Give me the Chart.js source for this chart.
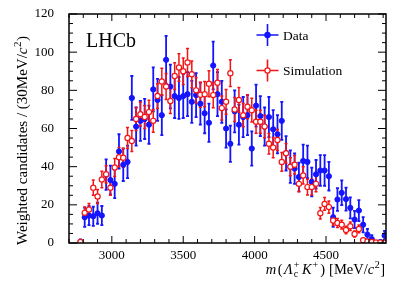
<!DOCTYPE html>
<html>
<head>
<meta charset="utf-8">
<script src="https://cdn.jsdelivr.net/npm/chart.js"></script>
<style>
  body { margin: 0; background: #fff; }
  #wrap { width: 407px; height: 292px; }
</style>
</head>
<body>
<div id="wrap"><canvas id="chart" width="407" height="292"></canvas></div>
<script>
// bin centres, MeV/c^2 (30 MeV bins)
const massBins = [2780, 2810, 2840, 2870, 2900, 2930, 2960, 2990, 3020, 3050, 3080, 3110,
  3140, 3170, 3200, 3230, 3260, 3290, 3320, 3350, 3380, 3410, 3440, 3470,
  3500, 3530, 3560, 3590, 3620, 3650, 3680, 3710, 3740, 3770, 3800, 3830,
  3860, 3890, 3920, 3950, 3980, 4010, 4040, 4070, 4100, 4130, 4160, 4190,
  4220, 4250, 4280, 4310, 4340, 4370, 4400, 4430, 4460, 4490, 4520, 4550,
  4580, 4610, 4640, 4670, 4700, 4730, 4760, 4790, 4820, 4850, 4880, 4910];

const dataVals = [0.4, 13.5, 14.4, 14, 15.6, 14.4, 35.8, 33, 31, 48, 41, 42.5,
  76, 61, 64, 65, 62, 80.5, 75, 67, 96, 82, 77, 76,
  77, 78, 74, 77.5, 73, 68, 63, 93, 78, 74, 60, 52,
  69, 62, 66, 67, 49.5, 72, 66.5, 61, 66, 59.6, 57, 64,
  47, 40, 39, 34.6, 43, 42.5, 32, 36, 38, 38, 35, 13.5,
  22.8, 26.3, 23, 18.4, 12.3, 17, 9.6, 4.4, 2.1, 0, 0.4, 3.9];
const dataErr = [1.5, 5, 5, 5, 5.5, 5, 8, 7.5, 7.5, 9, 8.5, 8.5,
  11.5, 10, 10.5, 10.5, 10, 11.5, 11, 10.5, 12.5, 11.5, 11.5, 11,
  11.5, 11.5, 11, 11.5, 11, 10.5, 10, 12.5, 11.5, 11, 10, 9.5,
  11, 10.5, 10.5, 10.5, 9, 11, 10.5, 10, 10.5, 10, 10, 10,
  9, 8.5, 8, 7.5, 8.5, 8.5, 7.5, 7.5, 8, 8, 7.5, 5,
  6, 6.5, 6, 5.5, 4.5, 5.5, 4, 3, 2, 1, 1.2, 2.5];

const simVals = [0.5, 15.8, 17.5, 29, 24.4, 33.3, 36, 29, 39.6, 45, 44.7, 55,
  53.5, 65, 67.5, 66, 68.6, 64, 77, 84.6, 82, 74.4, 87.5, 92,
  90, 94.6, 88.4, 80, 77.7, 78, 83.5, 77.5, 84, 70.7, 74, 89,
  70, 75, 67, 71.4, 69.6, 63.5, 63.5, 61, 52, 50, 54, 42.5,
  47, 40, 41, 31, 35.4, 29.3, 29.3, 31, 15.6, 20.5, 18.8, 11.8,
  10.5, 9.6, 6.8, 8.8, 4.7, 7.4, 1.5, 0.8, 0.5, 0.3, 0.2, 0.1];
const simErr = [0.5, 3, 3.2, 4, 3.7, 4.3, 4.5, 4, 4.7, 5, 5, 5.5,
  5.5, 6, 6.2, 6, 6.2, 6, 6.5, 7, 6.8, 6.5, 7, 7.2,
  7, 7.3, 7, 6.7, 6.6, 6.6, 6.8, 6.6, 6.9, 6.3, 6.5, 7,
  6.3, 6.5, 6.1, 6.3, 6.2, 6, 6, 5.9, 5.4, 5.3, 5.5, 4.9,
  5.1, 4.7, 4.8, 4.2, 4.5, 4.1, 4.1, 4.2, 3, 3.4, 3.2, 2.6,
  2.4, 2.3, 2, 2.2, 1.6, 2, 0.9, 0.7, 0.5, 0.4, 0.3, 0.2];

const xTicks = [3000, 3500, 4000, 4500];
const yTicks = [0, 20, 40, 60, 80, 100, 120];

const serif = "'Liberation Serif', 'DejaVu Serif', serif";
const blue = '#1414ff';
const red = '#f51414';

function toPoints(vals) {
  return massBins.map((m, i) => ({ x: m, y: vals[i] }));
}

// rich text: parts with italic / superscript / subscript, pad = extra gap after
function richWidth(ctx, parts, size) {
  let w = 0;
  parts.forEach(p => {
    if (p.sup !== undefined || p.sub !== undefined) {
      ctx.font = Math.round(size * 0.7) + 'px ' + serif;
      w += Math.max(ctx.measureText(p.sup || '').width, ctx.measureText(p.sub || '').width);
    } else {
      ctx.font = (p.it ? 'italic ' : '') + size + 'px ' + serif;
      w += ctx.measureText(p.t).width;
    }
    w += p.pad || 0;
  });
  return w;
}
function drawRich(ctx, parts, x, y, size) {
  parts.forEach(p => {
    if (p.sup !== undefined || p.sub !== undefined) {
      ctx.font = Math.round(size * 0.7) + 'px ' + serif;
      let w = 0;
      if (p.sup) { ctx.fillText(p.sup, x, y - size * 0.42); w = ctx.measureText(p.sup).width; }
      if (p.sub) { ctx.fillText(p.sub, x, y + size * 0.22); w = Math.max(w, ctx.measureText(p.sub).width); }
      x += w;
    } else {
      ctx.font = (p.it ? 'italic ' : '') + size + 'px ' + serif;
      ctx.fillText(p.t, x, y);
      x += ctx.measureText(p.t).width;
    }
    x += p.pad || 0;
  });
}

const xTitle = [{ t: 'm', it: true, pad: 1.5 }, { t: '(', pad: 1.5 }, { t: 'Λ', it: true, pad: 1 },
  { sup: '+', sub: 'c', pad: 2.5 }, { t: 'K', it: true, pad: 1 }, { sup: '+', pad: 2 },
  { t: ')', pad: 4 }, { t: '[MeV/' }, { t: 'c', it: true, pad: 0.5 }, { sup: '2', pad: 0.5 }, { t: ']' }];
const yTitle = [{ t: 'Weighted candidates / (30MeV/' }, { t: 'c', it: true, pad: 0.5 }, { sup: '2', pad: 0.5 }, { t: ')' }];

const errorBars = {
  id: 'errorBars',
  beforeDatasetsDraw(chart) {
    const ctx = chart.ctx, ys = chart.scales.y, a = chart.chartArea;
    ctx.save();
    ctx.beginPath();
    ctx.rect(a.left, a.top, a.right - a.left, a.bottom - a.top);
    ctx.clip();
    [1, 0].forEach(di => {
      const ds = chart.data.datasets[di];
      const meta = chart.getDatasetMeta(di);
      ctx.strokeStyle = ds.borderColor;
      ctx.lineWidth = ds.barWidth;
      meta.data.forEach((pt, i) => {
        const v = ds.data[i].y, e = ds.errors[i];
        const y1 = ys.getPixelForValue(v - e), y2 = ys.getPixelForValue(v + e);
        ctx.beginPath();
        ctx.moveTo(pt.x, y1); ctx.lineTo(pt.x, y2);
        ctx.moveTo(pt.x - 1.5, y1); ctx.lineTo(pt.x + 1.5, y1);
        ctx.moveTo(pt.x - 1.5, y2); ctx.lineTo(pt.x + 1.5, y2);
        ctx.stroke();
      });
    });
    ctx.restore();
  }
};

const frame = {
  id: 'frame',
  afterDraw(chart) {
    const ctx = chart.ctx, xs = chart.scales.x, ys = chart.scales.y, a = chart.chartArea;
    ctx.save();
    ctx.strokeStyle = '#000';
    ctx.lineWidth = 1;
    ctx.beginPath();
    for (let v = 0; v <= 120; v += 5) {
      const y = ys.getPixelForValue(v);
      const len = v % 20 === 0 ? 8 : 4;
      ctx.moveTo(a.left, y); ctx.lineTo(a.left + len, y);
      ctx.moveTo(a.right, y); ctx.lineTo(a.right - len, y);
    }
    for (let v = 2700; v <= 4900; v += 100) {
      const x = xs.getPixelForValue(v);
      const len = v % 500 === 0 ? 7 : 4;
      ctx.moveTo(x, a.bottom); ctx.lineTo(x, a.bottom - len);
      ctx.moveTo(x, a.top); ctx.lineTo(x, a.top + len);
    }
    ctx.stroke();
    ctx.lineWidth = 1.5;
    ctx.strokeRect(a.left, a.top, a.right - a.left, a.bottom - a.top);

    // tick labels, placed through the scales
    ctx.fillStyle = '#000';
    ctx.font = '13px ' + serif;
    ctx.textAlign = 'right';
    ctx.textBaseline = 'middle';
    yTicks.forEach(v => ctx.fillText(String(v), a.left - 15, ys.getPixelForValue(v)));
    ctx.textAlign = 'center';
    ctx.textBaseline = 'top';
    xTicks.forEach(v => ctx.fillText(String(v), xs.getPixelForValue(v), a.bottom + 6));

    // LHCb label
    ctx.textAlign = 'left';
    ctx.textBaseline = 'alphabetic';
    ctx.font = '20px ' + serif;
    ctx.fillText('LHCb', 86, 47);

    // legend
    const entries = [
      { label: 'Data', color: blue, y: 35, fill: blue },
      { label: 'Simulation', color: red, y: 70.5, fill: '#fff' }
    ];
    entries.forEach(en => {
      ctx.strokeStyle = en.color;
      ctx.lineWidth = 1.6;
      ctx.beginPath();
      ctx.moveTo(256.5, en.y); ctx.lineTo(278.5, en.y);
      ctx.moveTo(267.5, en.y - 11); ctx.lineTo(267.5, en.y + 11);
      ctx.stroke();
      ctx.beginPath();
      ctx.arc(267.5, en.y, 2.6, 0, Math.PI * 2);
      ctx.fillStyle = en.fill;
      ctx.fill();
      ctx.lineWidth = 1.2;
      ctx.stroke();
      ctx.fillStyle = '#000';
      ctx.font = '13.5px ' + serif;
      ctx.fillText(en.label, 283, en.y + 4.5);
    });

    // axis titles
    const xw = richWidth(ctx, xTitle, 14.5);
    drawRich(ctx, xTitle, 385 - xw, 274, 14.5);

    ctx.translate(27, 245);
    ctx.rotate(-Math.PI / 2);
    drawRich(ctx, yTitle, 0, 0, 15);
    ctx.restore();
  }
};

const config = {
  type: 'scatter',
  data: {
    datasets: [{
      label: 'Simulation',
      data: toPoints(simVals),
      errors: simErr,
      borderColor: red,
      backgroundColor: '#fff',
      pointRadius: 2.6,
      pointBorderWidth: 1.2,
      barWidth: 1.5,
      showLine: false
    }, {
      label: 'Data',
      data: toPoints(dataVals),
      errors: dataErr,
      borderColor: blue,
      backgroundColor: blue,
      pointRadius: 2.6,
      pointBorderWidth: 1,
      barWidth: 1.8,
      showLine: false
    }]
  },
  options: {
    responsive: false,
    animation: false,
    devicePixelRatio: 1,
    layout: { padding: { left: 0, right: 21, top: 14, bottom: 0 } },
    plugins: {
      legend: { display: false },
      tooltip: { enabled: false }
    },
    scales: {
      x: {
        type: 'linear',
        min: 2700,
        max: 4920,
        grid: { display: false, drawTicks: false },
        border: { display: false },
        ticks: { display: false },
        afterBuildTicks: axis => { axis.ticks = xTicks.map(v => ({ value: v })); },
        afterFit: s => { s.height = 49; }
      },
      y: {
        min: 0,
        max: 120,
        grid: { display: false, drawTicks: false },
        border: { display: false },
        ticks: { display: false },
        afterBuildTicks: axis => { axis.ticks = yTicks.map(v => ({ value: v })); },
        afterFit: s => { s.width = 69; }
      }
    }
  },
  plugins: [errorBars, frame]
};

const myChart = new Chart(document.getElementById('chart'), config);
</script>
</body>
</html>
